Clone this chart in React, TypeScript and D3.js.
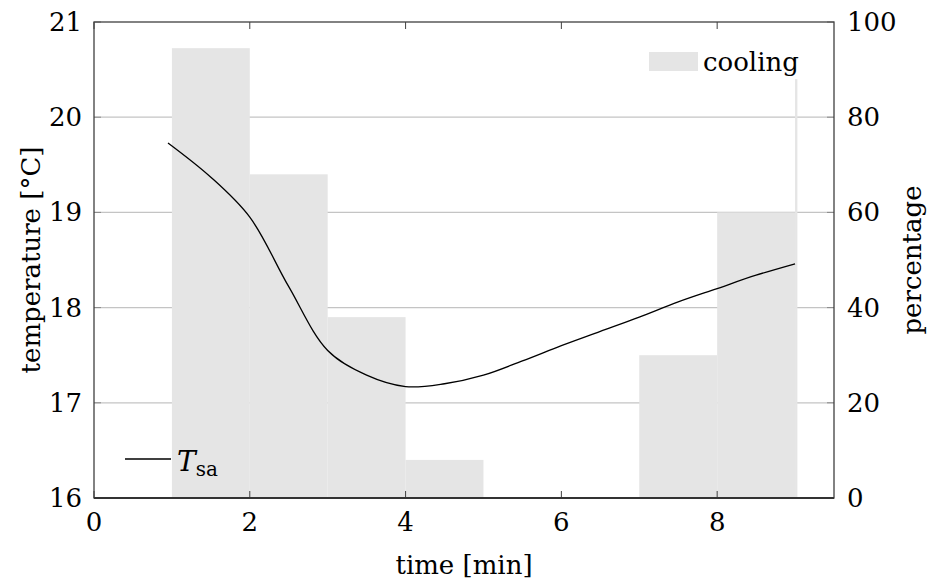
import React from "react";
import * as d3 from "d3";

const barStarts = [1, 2, 3, 4, 5, 6, 7, 8, 9];
const barEnds = [2, 3, 4, 5, 6, 7, 8, 9, 9.03];
const coolingPct = [94.5, 68, 38, 8, 0, 0, 30, 60, 88];

const timeX = [0.95, 1.5, 2, 2.5, 3, 3.5, 4, 4.5, 5, 5.5, 6, 6.5, 7, 7.5, 8, 8.5, 9];
const tempY = [19.73, 19.37, 18.95, 18.22, 17.55, 17.29, 17.17, 17.2, 17.29, 17.44, 17.6, 17.75, 17.9, 18.06, 18.2, 18.34, 18.46];

const xTicks = [0, 2, 4, 6, 8];
const tempTicks = [16, 17, 18, 19, 20, 21];
const pctTicks = [0, 20, 40, 60, 80, 100];

const W = 944;
const H = 584;
const M = { left: 94, right: 834, top: 22, bottom: 498 };
const FONT = "DejaVu Serif";

export default function App() {
  const x = d3.scaleLinear().domain([0, 9.5]).range([M.left, M.right]);
  const yT = d3.scaleLinear().domain([16, 21]).range([M.bottom, M.top]);
  const yP = d3.scaleLinear().domain([0, 100]).range([M.bottom, M.top]);
  const line = d3
    .line<number>()
    .x((_, i) => x(timeX[i]))
    .y((d) => yT(d))
    .curve(d3.curveCatmullRom.alpha(0.5));
  const axisColor = "#404040";
  const gridColor = "#c4c4c4";
  return (
    <svg width={W} height={H} style={{ position: "absolute", left: 0, top: 0, fontFamily: FONT }}>
      <rect x={0} y={0} width={W} height={H} fill="#fff" />
      {tempTicks.slice(1, -1).map((t) => (
        <line key={"g" + t} x1={M.left} x2={M.right} y1={yT(t)} y2={yT(t)} stroke={gridColor} strokeWidth={1.2} />
      ))}
      {coolingPct.map((v, i) =>
        v > 0 ? (
          <rect
            key={"b" + i}
            x={x(barStarts[i])}
            y={yP(v)}
            width={x(barEnds[i]) - x(barStarts[i])}
            height={yP(0) - yP(v)}
            fill="#e5e5e5"
          />
        ) : null
      )}
      <path d={line(tempY) || ""} fill="none" stroke="#000" strokeWidth={1.3} />
      {xTicks.map((t) => (
        <g key={"x" + t}>
          <line x1={x(t)} x2={x(t)} y1={M.bottom} y2={M.bottom - 7} stroke={axisColor} strokeWidth={1} />
          <line x1={x(t)} x2={x(t)} y1={M.top} y2={M.top + 7} stroke={axisColor} strokeWidth={1} />
          <text x={x(t)} y={M.bottom + 33} fontSize={26} textAnchor="middle">
            {t}
          </text>
        </g>
      ))}
      {tempTicks.map((t) => (
        <g key={"l" + t}>
          <line x1={M.left} x2={M.left + 7} y1={yT(t)} y2={yT(t)} stroke="#888" strokeWidth={1} />
          <text x={82} y={yT(t) + 9} fontSize={26} textAnchor="end">
            {t}
          </text>
        </g>
      ))}
      {pctTicks.map((t) => (
        <g key={"r" + t}>
          <line x1={M.right - 7} x2={M.right} y1={yP(t)} y2={yP(t)} stroke="#888" strokeWidth={1} />
          <text x={847} y={yP(t) + 9} fontSize={26} textAnchor="start">
            {t}
          </text>
        </g>
      ))}
      <rect x={M.left} y={M.top} width={M.right - M.left} height={M.bottom - M.top} fill="none" stroke={axisColor} strokeWidth={1.3} />
      <line x1={M.left} x2={M.right} y1={M.bottom} y2={M.bottom} stroke="#333" strokeWidth={2} />
      <text x={464} y={574} fontSize={26} textAnchor="middle">
        time [min]
      </text>
      <text transform={`translate(40, ${(M.top + M.bottom) / 2}) rotate(-90)`} fontSize={26} textAnchor="middle">
        temperature [°C]
      </text>
      <text transform={`translate(921, ${(M.top + M.bottom) / 2}) rotate(-90)`} fontSize={26} textAnchor="middle">
        percentage
      </text>
      <rect x={649} y={52} width={49} height={19} fill="#e5e5e5" />
      <text x={703} y={71} fontSize={26}>
        cooling
      </text>
      <line x1={125} x2={171} y1={459} y2={459} stroke="#000" strokeWidth={1.3} />
      <text x={177} y={471} fontSize={28}>
        <tspan fontStyle="italic">T</tspan>
        <tspan fontSize={20} dy={5}>sa</tspan>
      </text>
    </svg>
  );
}
